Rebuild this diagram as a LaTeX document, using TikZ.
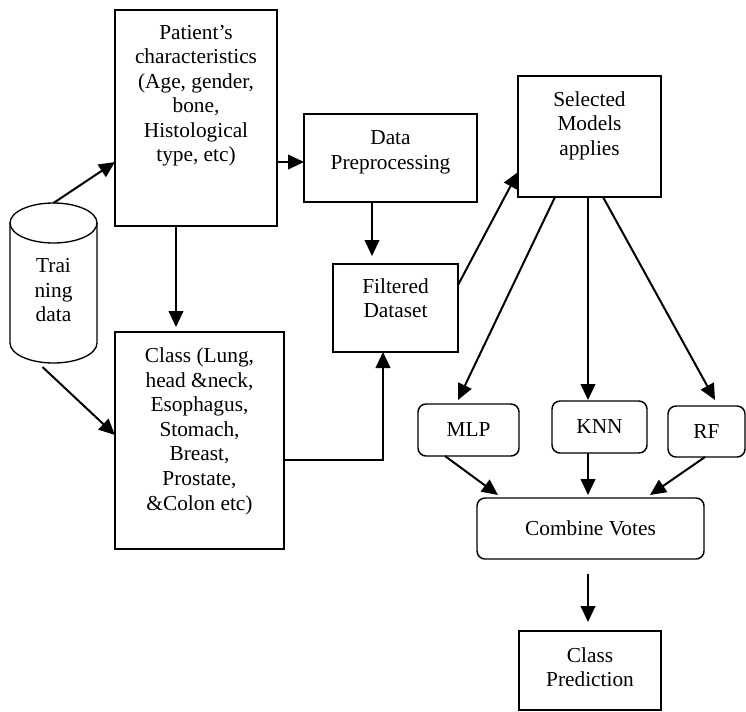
\documentclass[tikz,border=0pt]{standalone}
\usepackage{fontspec}
\setmainfont{Liberation Serif}
\usetikzlibrary{arrows.meta,calc}

\begin{document}
\begin{tikzpicture}[x=0.75pt, y=-0.75pt]
\tikzset{ >={Triangle[length=12pt,width=11pt]}, inner sep=0pt, outer sep=0pt,
  box/.style={draw, line width=1.1pt},
  rbox/.style={draw, line width=1.1pt, rounded corners=6pt, font=\fontsize{16}{18.4}\selectfont},
  txt/.style={align=center, anchor=north, font=\fontsize{16}{18.4}\selectfont},
  arr/.style={->, line width=1.5pt},
}
\useasboundingbox (0,0) rectangle (746,711);

%\draw [lightgray, dashed](0,0) grid [step=50] (746,711);

% store
\coordinate (cyl) at (53.5,283);
\draw [line width=1pt] ($(cyl)+(-43.5,-60)$) -- ($(cyl)+(-43.5,60)$)
      arc [start angle=180, end angle=0, x radius=43.5, y radius=20]
      -- ($(cyl)+(43.5,-60)$);
\draw [line width=1pt] ($(cyl)+(0,-60)$) ellipse [x radius=43.5, y radius=20];
\node [txt] (cylT) at (53.5,258.5) {Trai\\ning\\data};

% boxes
\node [box, minimum width=121.5pt, minimum height=162pt] (pat) at (196,118) {};
\node [txt] (patT) at (196,25) {Patient's\\characteristics\\(Age, gender,\\bone,\\Histological\\type, etc)};

\node [box, minimum width=126.75pt, minimum height=162.75pt] (cls) at (199.5,440.5) {};
\node [txt] (clsT) at (199.5,348) {Class (Lung,\\head \&neck,\\Esophagus,\\Stomach,\\Breast,\\Prostate,\\\&Colon etc)};

\node [box, minimum width=129.75pt, minimum height=66pt] (prep) at (390.5,158) {};
\node [txt] (prepT) at (390.5,131) {Data\\Preprocessing};

\node [box, minimum width=93.75pt, minimum height=66pt] (filt) at (395.5,308) {};
\node [txt] (filtT) at (395.5,278.5) {Filtered\\Dataset};

\node [box, minimum width=107.25pt, minimum height=90.75pt] (sel) at (589.5,136.5) {};
\node [txt] (selT) at (589.5,91.5) {Selected\\Models\\applies};

\node [rbox, minimum width=75.75pt, minimum height=39pt] (mlp) at (468.5,430) {MLP};
\node [rbox, minimum width=71.25pt, minimum height=39pt] (knn) at (599.5,427) {KNN};
\node [rbox, minimum width=57.75pt, minimum height=38.25pt] (rf) at (706.5,431.5) {RF};

\node [rbox, minimum width=170.25pt, minimum height=45.75pt] (comb) at (590.5,528.5) {Combine Votes};

\node [box, minimum width=106.5pt, minimum height=59.25pt] (pred) at (590,670.5) {};
\node [txt] (predT) at (590,647.5) {Class\\Prediction};

% arrows
\draw [arr] ($(cyl)+(0,-80)$)          -- ($(pat.west)+(0,44)$);
\draw [arr] ($(cyl)+(-11,84)$)         -- ($(cls.west)+(0,-5.5)$);
\draw [arr] ($(pat.south)+(-20,0)$)    -- ($(cls.north)+(-23.5,-5)$);
\draw [arr] ($(pat.east)+(0,44)$)      -- ($(prep.west)+(0,4)$);
\draw [arr] ($(prep.south)+(-18.5,0)$) -- ($(filt.north)+(-23.5,-8)$);
\draw [arr] ($(cls.east)+(0,19.5)$)    -| ($(filt.south)+(-12.5,0)$);
\draw [arr] ($(filt.east)+(0,-23)$)    -- ($(sel.west)+(0,35.5)$);

\draw [arr] ($(sel.south)+(-34.5,0)$)  -- ($(mlp.north)+(-10.5,-4)$);
\draw [arr] ($(sel.south)+(-1.5,0)$)   -- ($(knn.north)+(-11.5,-1)$);
\draw [arr] ($(sel.south)+(13.5,0)$)   -- ($(rf.north)+(8.5,-6)$);

\draw [arr] ($(mlp.south)+(-23.5,0)$)  -- ($(comb.north)+(-92.5,-3)$);
\draw [arr] ($(knn.south)+(-11.5,0)$)  -- ($(comb.north)+(-2.5,-3)$);
\draw [arr] ($(rf.south)+(-1.5,0)$)    -- ($(comb.north)+(59.5,-3)$);

\draw [arr] ($(comb.south)+(-2.5,15)$) -- ($(pred.north)+(-2,-9)$);

\end{tikzpicture}
\end{document}
